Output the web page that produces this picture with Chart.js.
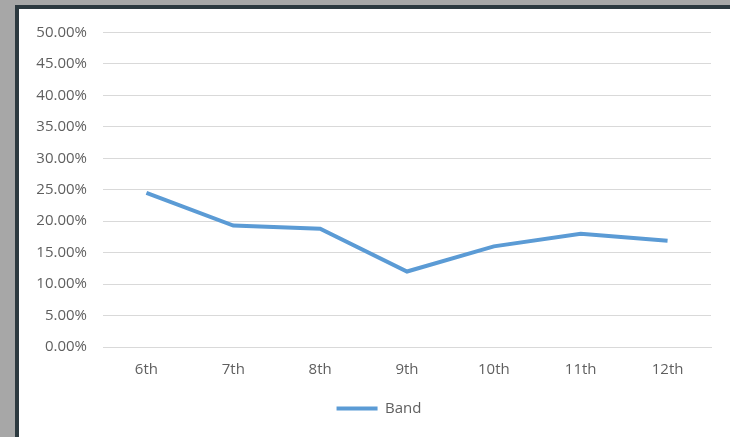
<!DOCTYPE html>
<html>
<head>
<meta charset="utf-8">
<script src="https://cdn.jsdelivr.net/npm/chart.js@4"></script>
<style>
    body { margin: 0; background: #a7a7a7; width: 730px; height: 437px; overflow: hidden; }
    .frame {
        position: absolute; left: 15px; top: 5px; width: 715px; height: 432px;
        box-sizing: border-box; background: #fff;
        border-left: 4px solid #2c393f; border-top: 4px solid #2c393f;
    }
    .wrap { position: relative; width: 711px; height: 428px; }
</style>
</head>
<body>
<div class="frame"><div class="wrap"><canvas id="chart"></canvas></div></div>
<script>
const grades = ['6th', '7th', '8th', '9th', '10th', '11th', '12th'];
const band = [0.245, 0.193, 0.188, 0.12, 0.16, 0.18, 0.169];
const yMax = 0.5;
const yStep = 0.05;

const font = { family: 'Open Sans', size: 15 };
const textColor = '#5f5f5f';

new Chart(document.getElementById('chart'), {
    type: 'line',
    data: {
        labels: grades,
        datasets: [{
            label: 'Band',
            data: band,
            borderColor: '#5b9bd5',
            backgroundColor: '#5b9bd5',
            borderWidth: 4,
            pointRadius: 0,
            tension: 0,
            fill: false
        }]
    },
    options: {
        responsive: true,
        maintainAspectRatio: false,
        animation: false,
        layout: { padding: { top: 13, right: 0, bottom: 11, left: 9 } },
        plugins: {
            tooltip: { enabled: false },
            legend: {
                position: 'bottom',
                labels: {
                    usePointStyle: true,
                    pointStyle: 'line',
                    pointStyleWidth: 41,
                    color: textColor,
                    font: font,
                    padding: 0
                }
            }
        },
        scales: {
            x: {
                offset: true,
                grid: { display: false },
                border: { color: '#d9d9d9' },
                ticks: { color: textColor, font: font, padding: 6 },
                afterFit: scale => { scale.height = 54; }
            },
            y: {
                min: 0,
                max: yMax,
                grid: { color: '#d9d9d9', drawTicks: false },
                border: { display: false },
                ticks: {
                    stepSize: yStep,
                    color: textColor,
                    font: { family: 'Open Sans', size: 15, lineHeight: 1 },
                    padding: 16,
                    callback: v => (v * 100).toFixed(2) + '%'
                },
                afterFit: scale => { scale.width = 75; }
            },
            // empty right axis, keeps the plot off the right edge
            yRight: {
                position: 'right',
                grid: { display: false },
                border: { display: false },
                ticks: { display: false },
                afterFit: scale => { scale.width = 19; }
            }
        }
    }
});
</script>
</body>
</html>
